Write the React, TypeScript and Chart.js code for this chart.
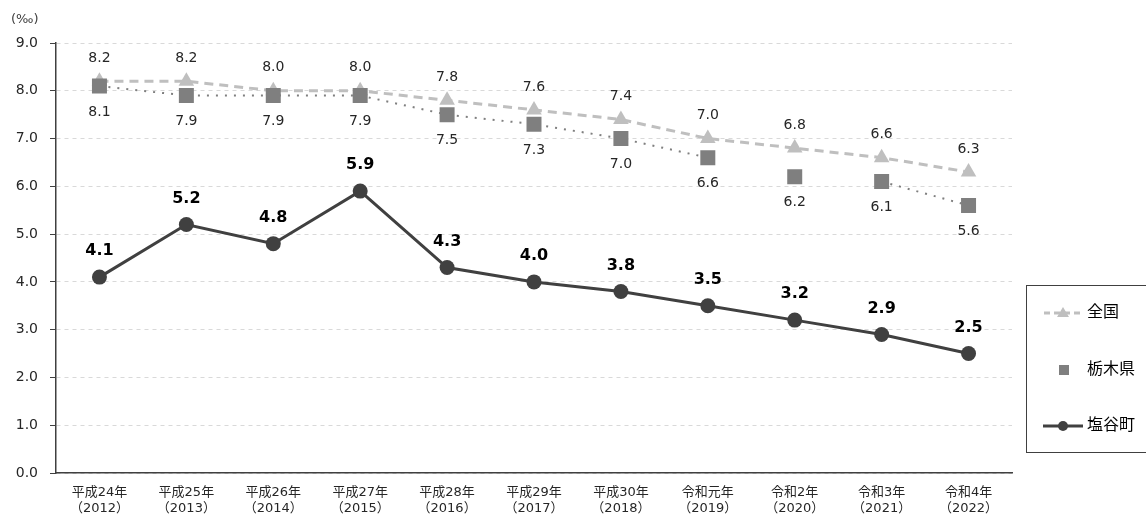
import React, { useEffect, useRef } from "react";
import { Chart, registerables } from "chart.js";

Chart.register(...registerables);

const categories: string[][] = [
  ["平成24年", "（2012）"],
  ["平成25年", "（2013）"],
  ["平成26年", "（2014）"],
  ["平成27年", "（2015）"],
  ["平成28年", "（2016）"],
  ["平成29年", "（2017）"],
  ["平成30年", "（2018）"],
  ["令和元年", "（2019）"],
  ["令和2年", "（2020）"],
  ["令和3年", "（2021）"],
  ["令和4年", "（2022）"],
];

const seriesNames = ["全国", "栃木県", "塩谷町"];
const national = [8.2, 8.2, 8.0, 8.0, 7.8, 7.6, 7.4, 7.0, 6.8, 6.6, 6.3];
const tochigi = [8.1, 7.9, 7.9, 7.9, 7.5, 7.3, 7.0, 6.6, 6.2, 6.1, 5.6];
const shioya = [4.1, 5.2, 4.8, 5.9, 4.3, 4.0, 3.8, 3.5, 3.2, 2.9, 2.5];

const yMin = 0;
const yMax = 9;
const yStep = 1;
const unitLabel = "(‰)";

const FONT = "'DejaVu Sans', 'Noto Sans CJK JP', sans-serif";
const C_NAT = "#bfbfbf";
const C_TOC = "#7f7f7f";
const C_SHI = "#404040";

const labelsPlugin = {
  id: "customLabels",
  afterDatasetsDraw(chart: any) {
    const ctx = chart.ctx;
    ctx.save();
    ctx.textAlign = "center";
    ctx.textBaseline = "middle";
    const cfg = [
      { idx: 0, dy: -23, font: `14px ${FONT}`, color: "#262626" },
      { idx: 1, dy: 26, font: `14px ${FONT}`, color: "#262626" },
      { idx: 2, dy: -26, font: `bold 16px ${FONT}`, color: "#000000" },
    ];
    cfg.forEach((c) => {
      const meta = chart.getDatasetMeta(c.idx);
      const data = chart.data.datasets[c.idx].data as number[];
      ctx.font = c.font;
      ctx.fillStyle = c.color;
      meta.data.forEach((pt: any, i: number) => {
        ctx.fillText(data[i].toFixed(1), pt.x, pt.y + c.dy);
      });
    });
    ctx.restore();
  },
  afterDraw(chart: any) {
    const ctx = chart.ctx;
    ctx.save();
    // unit label
    ctx.font = `13px ${FONT}`;
    ctx.fillStyle = "#404040";
    ctx.textAlign = "left";
    ctx.textBaseline = "middle";
    ctx.fillText(unitLabel, 11, 20);

    // legend box
    ctx.strokeStyle = "#404040";
    ctx.lineWidth = 1;
    ctx.strokeRect(1026.5, 285.5, 130, 167);

    const lx = 1063;
    const tx = 1087;
    ctx.font = `16px ${FONT}`;
    ctx.fillStyle = "#000";
    ctx.textBaseline = "middle";

    // 全国
    let y = 313;
    ctx.strokeStyle = C_NAT;
    ctx.lineWidth = 3;
    ctx.setLineDash([6, 4]);
    ctx.beginPath();
    ctx.moveTo(1044, y);
    ctx.lineTo(1081, y);
    ctx.stroke();
    ctx.setLineDash([]);
    ctx.fillStyle = C_NAT;
    ctx.beginPath();
    ctx.moveTo(lx, y - 6);
    ctx.lineTo(lx + 6, y + 4);
    ctx.lineTo(lx - 6, y + 4);
    ctx.closePath();
    ctx.fill();
    ctx.fillStyle = "#000";
    ctx.fillText(seriesNames[0], tx, y);

    // 栃木県
    y = 370;
    ctx.fillStyle = C_TOC;
    ctx.fillRect(lx - 4, y - 5, 10, 10);
    ctx.fillStyle = "#000";
    ctx.fillText(seriesNames[1], tx, y);

    // 塩谷町
    y = 426;
    ctx.strokeStyle = C_SHI;
    ctx.lineWidth = 3;
    ctx.beginPath();
    ctx.moveTo(1043, y);
    ctx.lineTo(1083, y);
    ctx.stroke();
    ctx.fillStyle = C_SHI;
    ctx.beginPath();
    ctx.arc(lx, y, 5, 0, Math.PI * 2);
    ctx.fill();
    ctx.fillStyle = "#000";
    ctx.fillText(seriesNames[2], tx, y);
    ctx.restore();
  },
};

export default function App() {
  const ref = useRef<HTMLCanvasElement | null>(null);
  useEffect(() => {
    if (!ref.current) return;
    const hiddenSegs = [7, 8];
    const chart = new Chart(ref.current, {
      type: "line",
      data: {
        labels: categories,
        datasets: [
          {
            label: seriesNames[0],
            data: national,
            borderColor: C_NAT,
            backgroundColor: C_NAT,
            borderWidth: 3,
            borderDash: [9, 6],
            pointStyle: "triangle",
            pointRadius: 9,
            pointBorderWidth: 0,
            pointBackgroundColor: C_NAT,
            order: 1,
          },
          {
            label: seriesNames[1],
            data: tochigi,
            borderColor: C_TOC,
            backgroundColor: C_TOC,
            borderWidth: 2,
            borderDash: [2, 7],
            segment: {
              borderColor: (c: any) => (hiddenSegs.includes(c.p0DataIndex) ? "rgba(0,0,0,0)" : C_TOC),
            },
            pointStyle: "rect",
            pointRadius: 10.6,
            pointBorderWidth: 0,
            pointBackgroundColor: C_TOC,
            order: 0,
          },
          {
            label: seriesNames[2],
            data: shioya,
            borderColor: C_SHI,
            backgroundColor: C_SHI,
            borderWidth: 3,
            pointStyle: "circle",
            pointRadius: 7.5,
            pointBorderWidth: 0,
            pointBackgroundColor: C_SHI,
            order: 2,
          },
        ],
      },
      options: {
        animation: false,
        responsive: true,
        maintainAspectRatio: false,
        layout: { padding: { top: 43, right: 134, left: 0, bottom: 0 } },
        plugins: {
          legend: { display: false },
          tooltip: { enabled: false },
          title: { display: false },
        },
        scales: {
          x: {
            offset: true,
            grid: { display: false, drawTicks: false },
            border: { display: true, color: "#404040", width: 1.5 },
            ticks: {
              color: "#262626",
              font: { family: FONT, size: 13, lineHeight: 1.2 },
              padding: 12,
              maxRotation: 0,
              autoSkip: false,
            },
            afterFit: (s: any) => {
              s.height = 44;
            },
          },
          y: {
            min: yMin,
            max: yMax,
            grid: {
              color: "#d9d9d9",
              lineWidth: 1,
              drawTicks: true,
              tickLength: 6,
              tickColor: "#404040",
              tickBorderDash: [],
            },
            border: { display: true, color: "#404040", width: 1.5, dash: [4, 4] },
            ticks: {
              stepSize: yStep,
              color: "#262626",
              font: { family: FONT, size: 14 },
              padding: 12,
              callback: (v: any) => Number(v).toFixed(1),
            },
            afterFit: (s: any) => {
              s.width = 56;
            },
          },
        },
      },
      plugins: [labelsPlugin],
    });
    return () => chart.destroy();
  }, []);
  return (
    <div style={{ position: "absolute", left: 0, top: 0, width: 1146, height: 517, background: "#fff" }}>
      <canvas ref={ref} />
    </div>
  );
}
